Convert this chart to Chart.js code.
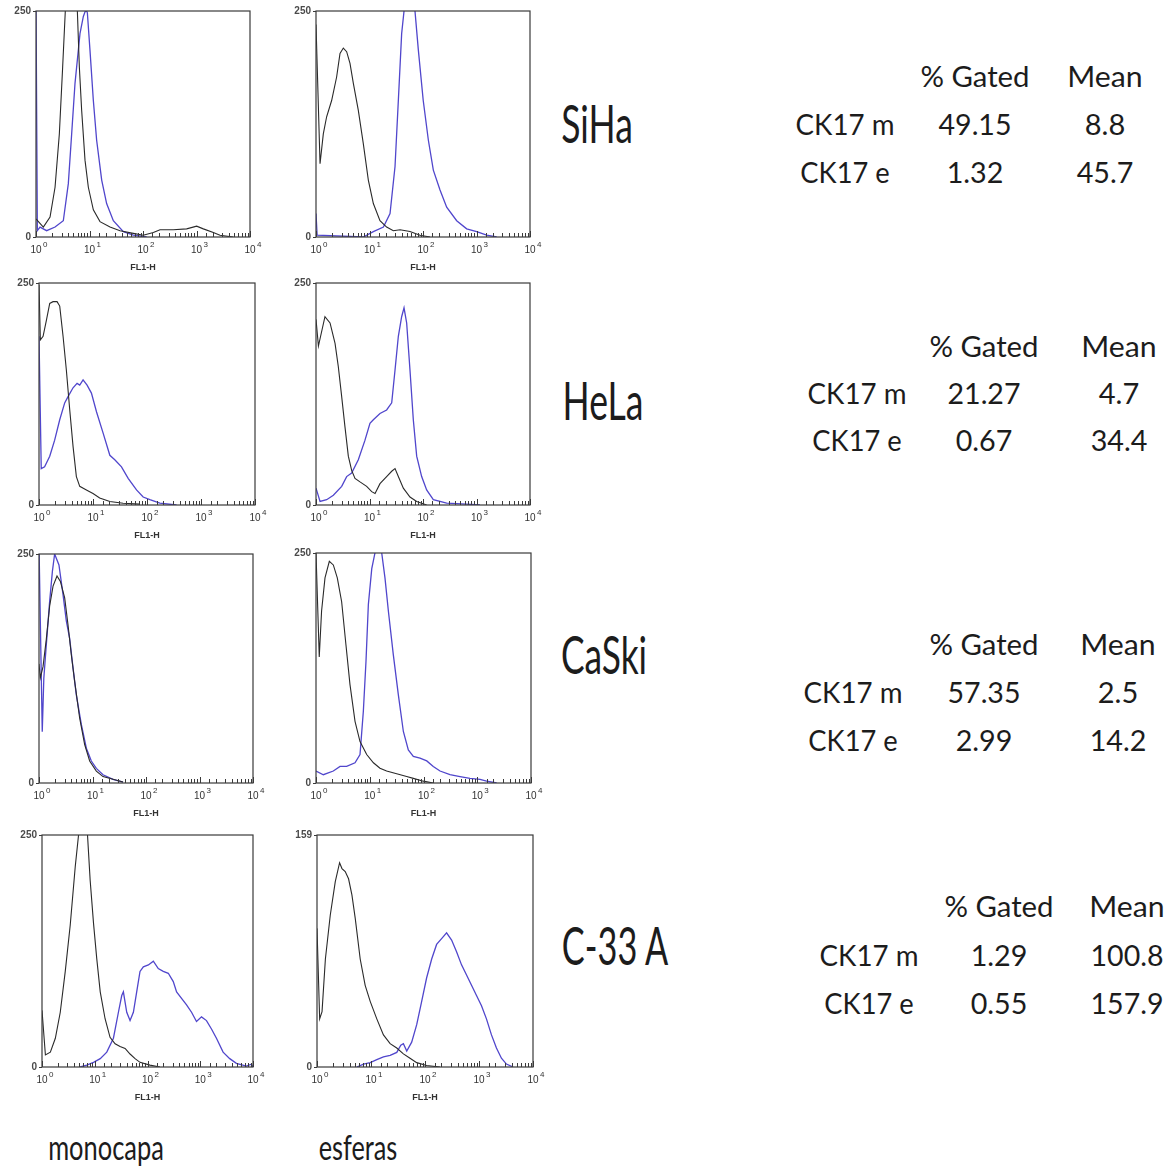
<!DOCTYPE html>
<html>
<head>
<meta charset="utf-8">
<script src="https://cdn.jsdelivr.net/npm/chart.js@4.4.0/dist/chart.umd.min.js"></script>
<style>
html, body { margin: 0; padding: 0; background: #fff; }
#page { position: relative; width: 1171px; height: 1167px; overflow: hidden; }
#page canvas { position: absolute; }
#labels { position: absolute; left: 0; top: 0; }
#labels text { font-family: Lato, 'Open Sans', sans-serif; fill: #1c1c1c; }
</style>
</head>
<body>
<div id="page"><svg id="labels" width="1171" height="1167"></svg></div>
<script>
// cell lines (rows) and culture type (columns)
const cellLines = ['SiHa', 'HeLa', 'CaSki', 'C-33 A'];
const cultures = ['monocapa', 'esferas'];
const axisTitle = 'FL1-H';
const xTickBase = '10';
const xTickExp = ['0', '1', '2', '3', '4'];
const yMaxTicks = [250, 250, 250, 250, 250, 250, 250, 159];

// table values
const tableCols = ['% Gated', 'Mean'];
const tableRows = ['CK17 m', 'CK17 e'];
const gatedM = ['49.15', '21.27', '57.35', '1.29'];
const gatedE = ['1.32', '0.67', '2.99', '0.55'];
const meanM = ['8.8', '4.7', '2.5', '100.8'];
const meanE = ['45.7', '34.4', '14.2', '157.9'];

// histograms [FL1-H, count]
const sihaMonoBlack = [[1,20],[1.37,11],[1.83,22],[2.27,55],[2.73,114],[3.15,188],[3.53,250],[4.57,330],[5.93,250],[6.46,188],[7.14,140],[8.24,85],[9.51,55],[11.8,30],[15.7,17],[24.2,11],[37.2,7],[66,4],[101,2],[156,5],[208,8],[369,8],[655,9],[1007,12],[1342,9],[2064,5],[2750,2],[4880,0]];
const sihaMonoBlue = [[1,260],[1.06,7],[1.19,11],[1.58,7],[2.27,11],[3.24,18],[4.02,59],[4.64,114],[5.36,170],[6.64,225],[7.67,244],[8.61,252],[9.12,248],[10.2,207],[11.8,151],[13.6,107],[16.9,63],[20.9,37],[27.9,18],[42.9,6],[66,2],[117,0]];
const sihaEsfBlack = [[1,235],[1.19,81],[1.37,114],[1.58,133],[1.96,151],[2.43,177],[2.81,203],[3.24,209],[3.74,205],[4.32,192],[4.99,170],[6.18,140],[7.67,103],[9.51,63],[11.8,37],[15.7,18],[20.9,11],[27.9,7],[37.2,8],[57.1,6],[87.9,2],[135,0]];
const sihaEsfBlue = [[1,26],[1.05,2],[7.67,0],[11.8,6],[18.2,11],[24.2,26],[30,78],[34.6,151],[39.9,225],[44.2,250],[55.6,330],[70.8,250],[81.8,207],[101,151],[126,107],[156,74],[208,52],[277,33],[426,18],[655,9],[1007,6],[1549,2],[2382,0]];
const helaMonoBlack = [[1,248],[1.06,186],[1.19,190],[1.37,208],[1.58,227],[1.82,229],[2.16,229],[2.42,224],[2.79,190],[3.21,152],[3.71,107],[4.27,66],[4.92,32],[5.68,21],[7.55,17],[10,13],[13.3,8],[20.5,4],[36.1,2],[73.6,1]];
const helaMonoBlue = [[1,190],[1.1,41],[1.27,43],[1.58,55],[1.95,73],[2.42,96],[2.99,115],[3.45,122],[4.27,132],[5.07,137],[5.68,135],[6.55,141],[7.77,135],[9.35,126],[11.6,105],[15.4,81],[20.5,56],[25.3,51],[33.7,43],[44.8,30],[63.9,17],[84.9,9],[113,6],[173,2],[352,0]];
const helaEsfBlack = [[1,209],[1.11,179],[1.47,212],[1.83,205],[2.27,182],[2.61,156],[3.02,122],[3.48,88],[4.02,55],[4.64,39],[5.36,30],[6.64,26],[8.85,21],[11,15],[12.7,13],[15.7,24],[20.9,32],[26,38],[30,41],[34.6,32],[42.9,19],[57.1,9],[76.2,4],[117,0]];
const helaEsfBlue = [[1,19],[1.19,4],[1.58,6],[2.11,11],[3.02,21],[3.74,32],[4.64,36],[6.18,51],[8.24,73],[10.2,92],[11.8,96],[15.7,103],[20.9,107],[26,115],[30,152],[34.6,190],[39.9,212],[44.2,222],[49.5,205],[57.1,152],[65.9,96],[76.2,55],[94.4,32],[117,17],[156,6],[277,2],[655,1],[1162,0]];
const caskiMonoBlack = [[1,130],[1.06,115],[1.19,127],[1.37,157],[1.58,193],[1.83,215],[2.17,226],[2.51,220],[3.02,202],[3.48,173],[4.02,140],[4.64,111],[5.75,71],[7.14,42],[8.85,24],[11.8,13],[15.7,7],[24.2,4],[37.2,1]];
const caskiMonoBlue = [[1,260],[1.15,56],[1.23,114],[1.37,151],[1.58,198],[1.78,231],[1.96,250],[2.36,238],[2.81,206],[3.24,177],[3.74,158],[4.32,126],[4.99,96],[6.18,64],[7.67,38],[9.51,24],[11.8,16],[15.7,9],[24.2,4],[37.2,1]];
const caskiEsfBlack = [[1,250],[1.15,137],[1.27,187],[1.47,223],[1.77,241],[2.1,237],[2.49,223],[3,197],[3.61,150],[4.29,107],[5.32,67],[6.59,45],[8.77,31],[11.7,22],[15.5,16],[20.6,13],[31.7,10],[48.6,7],[64.7,5],[99.3,2],[152,0]];
const caskiEsfBlue = [[1,13],[1.37,9],[2.1,13],[2.8,18],[3.72,18],[5.32,22],[6.59,31],[7.6,78],[8.51,132],[9.42,194],[10.9,233],[12.5,250],[14.5,320],[16.7,250],[19.2,223],[22.2,187],[27.5,139],[34,96],[42.2,56],[52.2,36],[64.7,29],[86.1,27],[115,24],[152,18],[203,13],[311,9],[478,7],[733,5],[1125,4],[1496,2],[2297,0]];
const c33MonoBlack = [[1,61],[1.16,13],[1.44,16],[1.79,31],[2.22,59],[2.76,103],[3.43,153],[4.27,216],[4.93,250],[5.96,320],[7.29,250],[8.19,201],[9.47,155],[10.9,117],[12.7,81],[15.7,52],[19.5,32],[24.3,25],[30.2,22],[37.6,20],[46.7,14],[58.1,9],[72.1,5],[111,2],[172,0]];
const c33MonoBlue = [[5.3,0],[7.08,2],[9.47,5],[12.7,9],[16.9,16],[22.6,31],[28.1,59],[32.5,77],[34.9,81],[40.4,59],[46.7,50],[54,59],[62.4,81],[72.1,103],[83.4,108],[104,110],[129,114],[160,106],[199,103],[248,101],[308,92],[356,81],[442,74],[550,67],[684,59],[849,49],[1057,54],[1313,50],[1633,41],[2028,31],[2710,16],[3622,9],[4842,4],[7480,1],[9310,3],[10000,0]];
const c33EsfBlack = [[1,95],[1.12,33],[1.24,38],[1.43,74],[1.76,104],[2.18,127],[2.62,140],[2.9,136],[3.33,134],[3.84,129],[4.43,118],[5.1,102],[6.31,74],[7.8,56],[9.66,45],[12.8,33],[17,22],[22.6,16],[30,13],[39.8,9],[52.8,6],[70.2,3],[107,1],[189,0]];
const c33EsfBlue = [[5.47,0],[7.27,2],[9.66,3],[12.8,5],[17,7],[22.6,8],[30,10],[35.6,15],[39.8,16],[45.9,11],[56.7,17],[70.2,29],[86.8,45],[107,61],[133,74],[164,84],[203,88],[251,92],[311,87],[384,79],[475,70],[588,63],[727,56],[899,49],[1112,42],[1374,33],[1702,22],[2104,13],[2602,6],[3221,2],[4276,0]];

const series = [
  [sihaMonoBlack, sihaMonoBlue], [sihaEsfBlack, sihaEsfBlue],
  [helaMonoBlack, helaMonoBlue], [helaEsfBlack, helaEsfBlue],
  [caskiMonoBlack, caskiMonoBlue], [caskiEsfBlack, caskiEsfBlue],
  [c33MonoBlack, c33MonoBlue], [c33EsfBlack, c33EsfBlue]
];

// plot boxes on the page: left, top, width, height
const boxes = [
  [36, 11, 214, 226], [316, 11, 214, 226],
  [39, 283, 216, 222], [316, 283, 214, 222],
  [39, 554, 214, 229], [316, 553, 215, 230],
  [42, 835, 211, 232], [317, 835, 216, 232]
];

const page = document.getElementById('page');
const isDecade = v => { const e = Math.log10(v); return Math.abs(e - Math.round(e)) < 1e-9; };
const tickFont = "'Liberation Sans', Arial, sans-serif";

// box, inward tick marks, and the exponents of the 10^n labels
const frame = {
  id: 'frame',
  afterDraw(chart) {
    const {ctx, chartArea: a, scales: {x, y}} = chart;
    ctx.save();
    ctx.strokeStyle = '#3a3a3a';
    ctx.lineWidth = 1.2;
    ctx.strokeRect(a.left, a.top, a.right - a.left, a.bottom - a.top);
    ctx.lineWidth = 1;
    x.ticks.forEach(t => {
      const px = Math.round(x.getPixelForValue(t.value)) + 0.5;
      ctx.beginPath();
      ctx.moveTo(px, a.bottom);
      ctx.lineTo(px, a.bottom - (isDecade(t.value) ? 6 : 4));
      ctx.stroke();
    });
    y.ticks.forEach(t => {
      const py = Math.round(y.getPixelForValue(t.value)) + 0.5;
      ctx.beginPath();
      ctx.moveTo(a.left, py);
      ctx.lineTo(a.left - 3, py);
      ctx.stroke();
    });
    ctx.fillStyle = '#333';
    ctx.font = '8px ' + tickFont;
    ctx.textBaseline = 'top';
    ctx.textAlign = 'left';
    x.ticks.forEach(t => {
      if (!isDecade(t.value)) return;
      const px = x.getPixelForValue(t.value);
      ctx.fillText(xTickExp[Math.round(Math.log10(t.value))], px + 7, a.bottom + 4);
    });
    ctx.restore();
  }
};

const m = {left: 36, top: 11, right: 22, bottom: 42};

series.forEach((pair, i) => {
  const [L, T, W, H] = boxes[i];
  const cv = document.createElement('canvas');
  cv.width = W + m.left + m.right;
  cv.height = H + m.top + m.bottom;
  cv.style.left = (L - m.left) + 'px';
  cv.style.top = (T - m.top) + 'px';
  page.appendChild(cv);

  const pts = arr => arr.map(([x, y]) => ({x, y}));

  new Chart(cv, {
    type: 'line',
    data: {
      datasets: [
        {data: pts(pair[0]), borderColor: '#2a2a2a', borderWidth: 1.1},
        {data: pts(pair[1]), borderColor: '#5046cc', borderWidth: 1.3}
      ]
    },
    options: {
      responsive: false,
      animation: false,
      events: [],
      layout: {padding: {top: m.top, right: m.right, left: 0, bottom: 0}},
      plugins: {legend: {display: false}, tooltip: {enabled: false}},
      elements: {point: {radius: 0}, line: {tension: 0}},
      scales: {
        x: {
          type: 'logarithmic', min: 1, max: 10000,
          afterFit: s => { s.height = m.bottom; },
          grid: {display: false, drawTicks: false},
          border: {display: false},
          ticks: {
            autoSkip: false, maxRotation: 0, padding: 7, color: '#333',
            font: {family: tickFont, size: 10},
            callback: v => isDecade(v) ? xTickBase : ''
          },
          title: {
            display: true, text: axisTitle, color: '#333',
            font: {family: tickFont, size: 9, weight: 'bold'},
            padding: {top: 0, bottom: 6}
          }
        },
        y: {
          min: 0, max: yMaxTicks[i],
          afterFit: s => { s.width = m.left; },
          afterBuildTicks: s => { s.ticks = [{value: 0}, {value: yMaxTicks[i]}]; },
          grid: {display: false, drawTicks: false},
          border: {display: false},
          ticks: {
            padding: 5, color: '#4a4a4a',
            font: {family: tickFont, size: 10, weight: 'bold'}
          }
        }
      }
    },
    plugins: [frame]
  });
});

// text (Calibri-like advance widths, forced with textLength)
const cw = {'0':.507,'1':.507,'2':.507,'3':.507,'4':.507,'5':.507,'6':.507,'7':.507,'8':.507,'9':.507,
  '.':.252,' ':.226,'%':.715,'G':.631,'a':.479,'t':.335,'e':.498,'d':.525,'M':.855,'n':.525,'C':.533,
  'K':.52,'m':.799,'S':.459,'i':.229,'H':.623,'L':.42,'k':.455,'-':.306,'A':.579,'o':.527,'c':.423,
  'p':.525,'s':.391,'f':.305,'r':.349};
const calWidth = (s, size) => [...s].reduce((acc, c) => acc + (cw[c] || .5), 0) * size;

const svg = document.getElementById('labels');
function addText(str, cx, baseline, fontPx, emPx) {
  const t = document.createElementNS('http://www.w3.org/2000/svg', 'text');
  t.setAttribute('x', cx);
  t.setAttribute('y', baseline);
  t.setAttribute('text-anchor', 'middle');
  t.setAttribute('font-size', fontPx);
  t.setAttribute('textLength', calWidth(str, emPx).toFixed(1));
  t.setAttribute('lengthAdjust', 'spacingAndGlyphs');
  t.textContent = str;
  svg.appendChild(t);
}

const rowLabelPos = [[597, 143], [603, 420], [604, 674], [615, 965]];
cellLines.forEach((name, i) => addText(name, rowLabelPos[i][0], rowLabelPos[i][1], 53, 40));

const cultureX = [106, 358];
cultures.forEach((name, j) => addText(name, cultureX[j], 1160, 35, 27));

// table positions: [label col, gated col, mean col], baselines of header/row1/row2
const tableX = [[845, 975, 1105], [857, 984, 1119], [853, 984, 1118], [869, 999, 1127]];
const tableY = [[87, 135, 183], [357, 404, 451], [655, 703, 751], [917, 966, 1014]];
cellLines.forEach((_, i) => {
  const [cl, cg, cm] = tableX[i];
  const [yh, y1, y2] = tableY[i];
  addText(tableCols[0], cg, yh, 29, 32);
  addText(tableCols[1], cm, yh, 29, 32);
  addText(tableRows[0], cl, y1, 29, 32);
  addText(gatedM[i], cg, y1, 29, 32);
  addText(meanM[i], cm, y1, 29, 32);
  addText(tableRows[1], cl, y2, 29, 32);
  addText(gatedE[i], cg, y2, 29, 32);
  addText(meanE[i], cm, y2, 29, 32);
});
</script>
</body>
</html>
